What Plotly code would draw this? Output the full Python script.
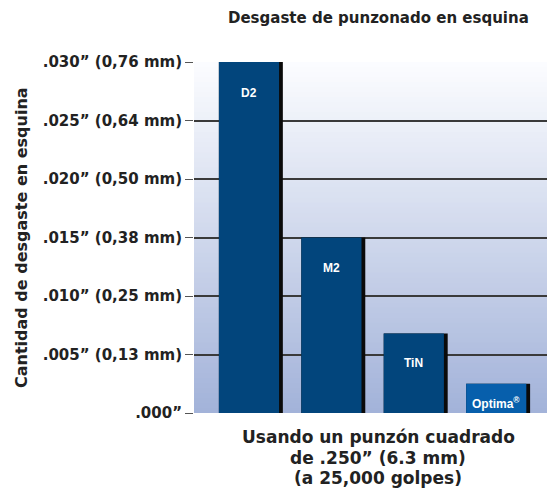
import plotly.graph_objects as go

categories = ["D2", "M2", "TiN", "Optima<sup>®</sup>"]
wear_in = [0.030, 0.015, 0.0068, 0.0025]
bar_colors = ["#02457c", "#02457c", "#02457c", "#075fac"]
tick_vals = [0.000, 0.005, 0.010, 0.015, 0.020, 0.025, 0.030]
tick_text = [".000\u201d", ".005\u201d (0,13 mm)", ".010\u201d (0,25 mm)", ".015\u201d (0,38 mm)",
             ".020\u201d (0,50 mm)", ".025\u201d (0,64 mm)", ".030\u201d (0,76 mm)"]
label_shift = [-31, -30, -30, -19]
xtitle_lines = ["Usando un punzón cuadrado", "de .250\u201d (6.3 mm)", "(a 25,000 golpes)"]

FONT = "DejaVu Sans, sans-serif"
LABEL_FONT = "Liberation Sans, Arial, sans-serif"
x = list(range(len(categories)))

# page offsets (browser body margin 8px)
PL, PT, PW, PH = 194, 62, 361, 351
def px(xp):
    return (xp - PL) / PW
def py(yp):
    return (PT + PH - yp) / PH

fig = go.Figure()
fig.add_trace(go.Bar(x=x, y=wear_in, width=0.776, offset=-0.388,
                     marker=dict(color="#0a0a0a", line=dict(width=0)), hoverinfo="skip"))
fig.add_trace(go.Bar(x=x, y=wear_in, width=0.73, offset=-0.388,
                     marker=dict(color=bar_colors, line=dict(width=0))))

# background gradient
n = 70
top = (252, 253, 255)
bot = (162, 178, 217)
shapes = []
for i in range(n):
    t = (i + 0.5) / n
    c = tuple(round(bot[k] + (top[k] - bot[k]) * t) for k in range(3))
    shapes.append(dict(type="rect", xref="paper", yref="paper", x0=0, x1=1,
                       y0=i / n, y1=min(1, (i + 1.6) / n), fillcolor="rgb(%d,%d,%d)" % c,
                       line=dict(width=0), layer="below"))

annotations = []
for xi, v, name, s in zip(x, wear_in, categories, label_shift):
    annotations.append(dict(x=xi - 0.023, y=v, xref="x", yref="y", text="<b>%s</b>" % name,
                            showarrow=False, yshift=s, xanchor="center", yanchor="middle",
                            font=dict(family=LABEL_FONT, size=12, color="white")))

annotations.append(dict(x=px(378), y=py(18), xref="paper", yref="paper",
                        text="<b>Desgaste de punzonado en esquina</b>", showarrow=False,
                        xanchor="center", yanchor="middle",
                        font=dict(family=FONT, size=15, color="#222")))
for line, yy in zip(xtitle_lines, [437, 458, 478]):
    annotations.append(dict(x=px(378), y=py(yy), xref="paper", yref="paper",
                            text="<b>%s</b>" % line, showarrow=False,
                            xanchor="center", yanchor="middle",
                            font=dict(family=FONT, size=17, color="#222")))
annotations.append(dict(x=px(22), y=py(238), xref="paper", yref="paper",
                        text="<b>Cantidad de desgaste en esquina</b>", textangle=-90,
                        showarrow=False, xanchor="center", yanchor="middle",
                        font=dict(family=FONT, size=16, color="#222")))

fig.update_layout(
    width=547, height=486,
    margin=dict(l=PL - 8, r=0, t=PT - 8, b=486 - (PT - 8 + PH)),
    barmode="overlay", showlegend=False,
    paper_bgcolor="white", plot_bgcolor="white",
    shapes=shapes, annotations=annotations,
    xaxis=dict(range=[-0.69, 3.69], showticklabels=False, showgrid=False, zeroline=False,
               fixedrange=True),
    yaxis=dict(range=[0, 0.030], tickvals=tick_vals, ticktext=tick_text,
               showgrid=True, gridcolor="#3a3a3a", gridwidth=1.5, zeroline=False,
               ticks="outside", ticklen=8, tickcolor="#555", tickwidth=1,
               tickfont=dict(family=FONT, size=15, color="#222", weight="bold")),
)
fig.update_traces(textposition="none")
fig.write_html("out.html")
